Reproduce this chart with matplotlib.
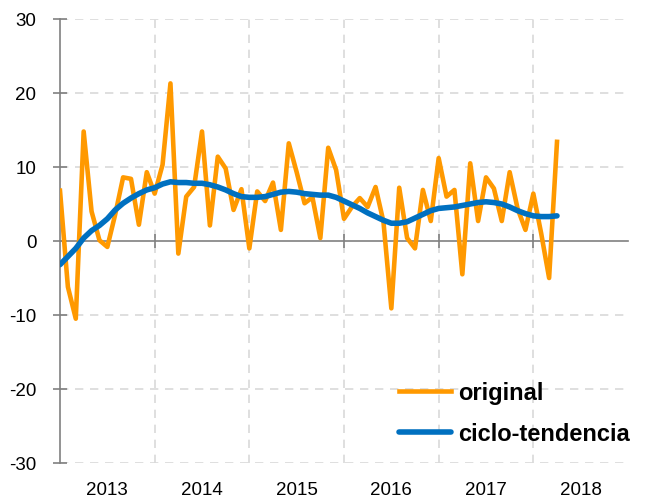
import matplotlib
matplotlib.use("Agg")
import matplotlib.pyplot as plt
import numpy as np

plt.rcParams['font.family'] = ['Liberation Sans', 'DejaVu Sans']

start_year = 2013
original = [6.8, -6.2, -10.5, 14.8, 4.0, 0.1, -0.8, 3.6, 8.6, 8.4, 2.2, 9.3,
            6.4, 10.3, 21.3, -1.7, 6.0, 7.3, 14.8, 2.1, 11.4, 9.8, 4.2, 7.0,
            -1.0, 6.7, 5.4, 7.9, 1.5, 13.2, 9.3, 5.1, 5.9, 0.4, 12.6, 9.6,
            3.0, 4.6, 5.8, 4.6, 7.3, 2.6, -9.1, 7.2, 0.4, -1.0, 6.9, 2.7,
            11.2, 6.0, 6.9, -4.5, 10.5, 2.7, 8.6, 7.1, 2.7, 9.3, 4.4, 1.5,
            6.4, 1.0, -5.0, 13.4]
trend = [-3.2, -2.1, -1.0, 0.4, 1.4, 2.1, 3.0, 4.2, 5.1, 5.8, 6.4, 6.9,
         7.2, 7.7, 8.0, 7.9, 7.9, 7.8, 7.8, 7.6, 7.3, 6.9, 6.4, 6.0,
         5.9, 5.9, 6.0, 6.3, 6.6, 6.7, 6.6, 6.4, 6.3, 6.2, 6.2, 5.9,
         5.4, 4.9, 4.4, 3.8, 3.3, 2.8, 2.4, 2.4, 2.6, 3.1, 3.6, 4.1,
         4.4, 4.5, 4.6, 4.8, 5.0, 5.2, 5.3, 5.2, 5.0, 4.6, 4.1, 3.7,
         3.4, 3.3, 3.3, 3.4]
years = ['2013', '2014', '2015', '2016', '2017', '2018']
yticks = [-30, -20, -10, 0, 10, 20, 30]

x = start_year + np.arange(len(original)) / 12.0

fig = plt.figure(figsize=(6.46, 5.02), dpi=100)
ax = fig.add_axes([60/646, 1-464/502, 568/646, 444/502])

grid_c = '#d9d9d9'
axis_c = '#808080'

ax.set_xlim(start_year, start_year + len(years))
ax.set_ylim(-30, 30)

# gridlines
for yv in yticks:
    if yv != 0:
        ax.axhline(yv, color=grid_c, lw=1.2, ls=(0, (5, 4)), zorder=0)
for k in range(1, len(years)):
    ax.axvline(start_year + k, color=grid_c, lw=1.2, ls=(0, (5, 4)), zorder=0)

ax.plot(x, original, color='#FF9900', lw=3.3, label='original', zorder=3)
ax.plot(x, trend, color='#0070C0', lw=4.0, label='ciclo-tendencia', zorder=4,
        solid_capstyle='round')

for s in ['top', 'right']:
    ax.spines[s].set_visible(False)
ax.spines['left'].set_color(axis_c)
ax.spines['left'].set_linewidth(1.2)
ax.spines['bottom'].set_position(('data', 0))
ax.spines['bottom'].set_color(axis_c)
ax.spines['bottom'].set_linewidth(1.2)

ax.set_yticks(yticks)
ax.set_yticklabels([str(v) for v in yticks])
ax.tick_params(axis='y', direction='inout', length=10, width=1.2, color=axis_c,
               labelsize=13.5, pad=12, labelcolor='black')

ax.set_xticks([start_year + k for k in range(1, len(years))])
ax.tick_params(axis='x', direction='inout', length=10, width=1.2, color=axis_c,
               labelbottom=False)

sec = ax.secondary_xaxis('bottom')
sec.set_xticks([start_year + k + 0.5 for k in range(len(years))])
sec.set_xticklabels(years)
sec.tick_params(length=0, labelsize=13.5, pad=13)
sec.spines['bottom'].set_visible(False)

leg = ax.legend(loc='lower right', bbox_to_anchor=(1.04, -0.007), frameon=False,
                prop={'weight': 'bold', 'size': 17}, handlelength=2.2,
                handletextpad=0.3, labelspacing=0.75)

fig.savefig('out.png', dpi=100)
